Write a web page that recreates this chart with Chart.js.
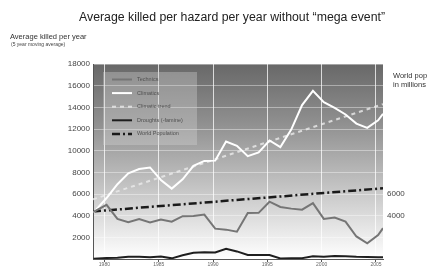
<!DOCTYPE html>
<html>
<head>
<meta charset="utf-8">
<script src="https://cdn.jsdelivr.net/npm/chart.js@4.4.1/dist/chart.umd.min.js"></script>
<style>
  html, body { margin: 0; padding: 0; background: #fff; overflow: hidden; }
  #wrap { position: relative; width: 427px; height: 269px; font-family: "Liberation Sans", Arial, sans-serif; }
  #chart { position: absolute; left: 0; top: 0; }
  .txt { position: absolute; white-space: nowrap; color: #222; }
  #title { left: 0; width: 464px; top: 10px; text-align: center; font-size: 12.3px; }
  #ytitle { left: 10px; top: 32px; font-size: 7.5px; color: #333; }
  #ysub { left: 11px; top: 41px; font-size: 5px; color: #444; }
  #rtitle { left: 393px; top: 71px; font-size: 7.5px; line-height: 9px; color: #333; }
</style>
</head>
<body>
<div id="wrap">
  <canvas id="chart" width="427" height="269"></canvas>
  <div class="txt" id="title">Average killed per hazard per year without “mega event”</div>
  <div class="txt" id="ytitle">Average killed per year</div>
  <div class="txt" id="ysub">(5 year moving average)</div>
  <div class="txt" id="rtitle">World population<br>in millions</div>
</div>
<script>
// データ================================================================
const years = [1979, 1980.2, 1981.2, 1982.2, 1983.2, 1984.2, 1985.2, 1986.2, 1987.2, 1988.2,
  1989.2, 1990.2, 1991.2, 1992.2, 1993.2, 1994.2, 1995.2, 1996.2, 1997.2, 1998.2,
  1999.2, 2000.2, 2001.2, 2002.2, 2003.2, 2004.2, 2005.2, 2005.65];

const technics = [4340, 5000, 3700, 3400, 3680, 3380, 3650, 3450, 3950, 3960,
  4100, 2800, 2710, 2520, 4240, 4260, 5290, 4800, 4650, 4550,
  5150, 3700, 3820, 3450, 2080, 1450, 2200, 2850];

const climatics = [4290, 5630, 6900, 7900, 8310, 8450, 7300, 6500, 7350, 8600,
  9050, 9080, 10850, 10450, 9490, 9830, 10940, 10330, 11950, 14210,
  15520, 14480, 13950, 13340, 12500, 12100, 12800, 13400];

const droughts = [30, 100, 120, 200, 200, 170, 220, 60, 350, 580,
  620, 600, 950, 700, 370, 370, 370, 50, 60, 80,
  250, 200, 280, 260, 200, 180, 170, 160];

const trendYears = [1978.95, 2005.65];
const climaticTrend = [5500, 14300];

const popYears = [1978.95, 2005.65];
const worldPopulation = [4390, 6530];

const xTicks = [1980, 1985, 1990, 1995, 2000, 2005];
const yTicks = [2000, 4000, 6000, 8000, 10000, 12000, 14000, 16000, 18000];
const popTicks = [4000, 6000];

function pts(xs, ys) {
  return xs.map(function(x, i) { return { x: x, y: ys[i] }; });
}
function plain(v) { return String(v); }

// 背景グラデーション ==============================================================
const bgPlugin = {
  id: 'bg',
  beforeDraw: function(chart) {
    const a = chart.chartArea;
    const ctx = chart.ctx;
    const g = ctx.createLinearGradient(0, a.top, 0, a.bottom);
    g.addColorStop(0, '#686868');
    g.addColorStop(0.3, '#8f8f8f');
    g.addColorStop(0.62, '#c2c2c2');
    g.addColorStop(1, '#ffffff');
    ctx.save();
    ctx.fillStyle = g;
    ctx.fillRect(a.left, a.top, a.right - a.left, a.bottom - a.top);
    ctx.restore();
  }
};

// 凡例（プロット内の箱）============================================================
const legendPlugin = {
  id: 'boxLegend',
  afterDatasetsDraw: function(chart) {
    const a = chart.chartArea;
    const ctx = chart.ctx;
    const x0 = a.left + 10, y0 = a.top + 8;
    ctx.save();
    ctx.fillStyle = 'rgba(215,215,215,0.35)';
    ctx.fillRect(x0, y0, 94, 73);
    chart.data.datasets.forEach(function(ds, i) {
      const y = y0 + 7.5 + i * 13.6;
      ctx.beginPath();
      ctx.setLineDash(ds.borderDash || []);
      ctx.strokeStyle = ds.borderColor;
      ctx.lineWidth = ds.borderWidth;
      ctx.moveTo(x0 + 9, y);
      ctx.lineTo(x0 + 29, y);
      ctx.stroke();
      ctx.setLineDash([]);
      ctx.fillStyle = '#505050';
      ctx.font = '5.5px "Liberation Sans", Arial, sans-serif';
      ctx.textBaseline = 'middle';
      ctx.fillText(ds.label, x0 + 34, y);
    });
    ctx.restore();
  }
};

const config = {
  type: 'line',
  data: {
    datasets: [
      { label: 'Technics', data: pts(years, technics), borderColor: '#757575', borderWidth: 2 },
      { label: 'Climatics', data: pts(years, climatics), borderColor: '#ffffff', borderWidth: 2 },
      { label: 'Climatic trend', data: pts(trendYears, climaticTrend), borderColor: 'rgba(235,235,235,0.8)', borderWidth: 2, borderDash: [4, 4] },
      { label: 'Droughts (-famine)', data: pts(years, droughts), borderColor: '#1e1e1e', borderWidth: 2 },
      { label: 'World Population', data: pts(popYears, worldPopulation), borderColor: '#1a1a1a', borderWidth: 2.5, borderDash: [8, 3, 2, 3] }
    ]
  },
  options: {
    responsive: false,
    animation: false,
    events: [],
    elements: { point: { radius: 0 }, line: { tension: 0, fill: false } },
    layout: { padding: { top: 64, left: 0, right: 0, bottom: 0 } },
    plugins: { legend: { display: false }, tooltip: { enabled: false } },
    scales: {
      x: {
        type: 'linear',
        min: 1978.95,
        max: 2005.65,
        afterBuildTicks: function(s) { s.ticks = xTicks.map(function(v) { return { value: v }; }); },
        afterFit: function(s) { s.height = 10; },
        ticks: { color: '#666', font: { size: 5 }, padding: 0, autoSkip: false, maxRotation: 0, callback: plain },
        grid: { color: 'rgba(255,255,255,0.75)', lineWidth: 1, tickColor: '#555', tickLength: 3 },
        border: { color: '#555', width: 1 }
      },
      y: {
        min: 0,
        max: 18000,
        afterBuildTicks: function(s) { s.ticks = yTicks.map(function(v) { return { value: v }; }); },
        afterFit: function(s) { s.width = 93; },
        ticks: { color: '#444', font: { size: 8 }, padding: 3, callback: plain },
        grid: { color: 'rgba(255,255,255,0.4)', lineWidth: 1, drawTicks: false },
        border: { color: '#555', width: 1 }
      },
      y2: {
        position: 'right',
        min: 0,
        max: 18000,
        afterBuildTicks: function(s) { s.ticks = popTicks.map(function(v) { return { value: v }; }); },
        afterFit: function(s) { s.width = 44; },
        ticks: { color: '#444', font: { size: 8 }, padding: 4, callback: plain },
        grid: { display: false, drawTicks: false },
        border: { display: false }
      }
    }
  },
  plugins: [bgPlugin, legendPlugin]
};

const chart = new Chart(document.getElementById('chart'), config);
</script>
</body>
</html>
